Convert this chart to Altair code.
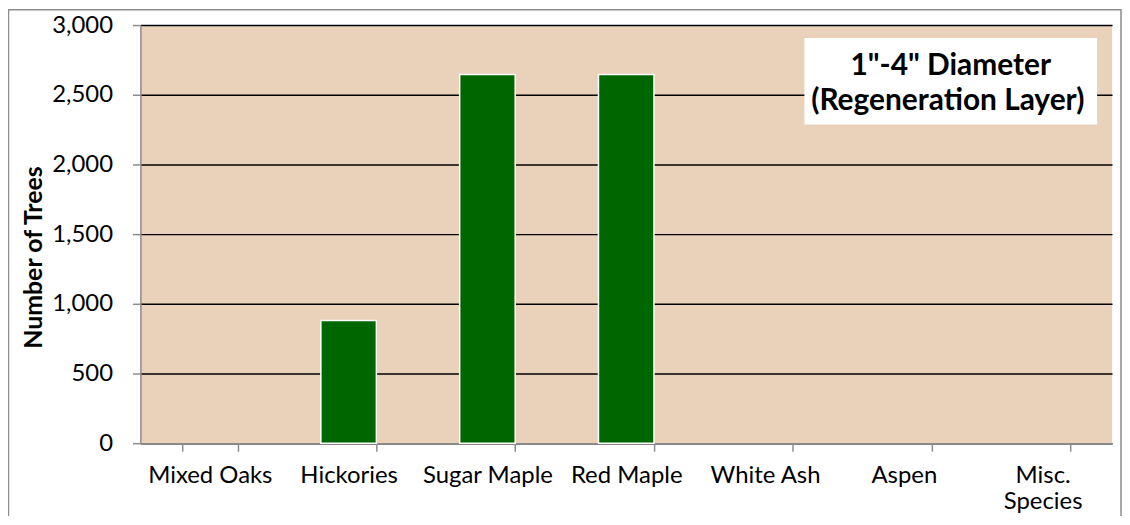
import altair as alt
import pandas as pd

species = ["Mixed Oaks", "Hickories", "Sugar Maple", "Red Maple", "White Ash", "Aspen", "Misc. Species"]
trees = [0, 880, 2645, 2645, 0, 0, 0]
y_ticks = [0, 500, 1000, 1500, 2000, 2500, 3000]

title_lines = ['1"-4" Diameter', "(Regeneration Layer)"]

df = pd.DataFrame({"species": species, "trees": trees})

FONT = "Lato"
W, H = 976, 420

x_scale = alt.Scale(domain=species, paddingInner=0.6, paddingOuter=0.3)
y_scale = alt.Scale(domain=[0, 3000])

bars = alt.Chart(df).transform_filter("datum.trees > 0").mark_bar(
    color="#006600", stroke="white", strokeWidth=1.5
).encode(
    x=alt.X("species:N", scale=x_scale, sort=species,
            axis=alt.Axis(title=None, labelAngle=0, labelFont=FONT, labelFontSize=24,
                          labelColor="#000000", labelPadding=12,
                          labelLineHeight=27,
                          labelExpr="datum.label == 'Misc. Species' ? ['Misc.', 'Species'] : datum.label",
                          tickBand="extent", ticks=True, tickSize=8, tickColor="#8c8c8c",
                          tickWidth=1.5, domainColor="#8c8c8c", domainWidth=1.5, grid=False)),
    y=alt.Y("trees:Q", scale=y_scale,
            axis=alt.Axis(title="Number of Trees", values=y_ticks,
                          format=",.0f", labelFont=FONT, labelFontSize=24, labelColor="#000000",
                          labelPadding=20, tickSize=8, tickColor="#8c8c8c", tickWidth=1.5,
                          domainColor="#8c8c8c", domainWidth=1.5,
                          grid=True, gridColor="#000000", gridWidth=1.5,
                          titleFont=FONT, titleFontSize=25, titleFontWeight="bold",
                          titleColor="#000000", titleAngle=-90, titleX=-107, titleY=233,
                          titleAlign="center", titleBaseline="middle")),
)

box = alt.Chart(pd.DataFrame({"a": [0]})).mark_rect(fill="white").encode(
    x=alt.value(667), x2=alt.value(961), y=alt.value(13), y2=alt.value(100)
)

t1 = alt.Chart(pd.DataFrame({"line": [title_lines[0]]})).mark_text(
    font=FONT, fontSize=30, fontWeight="bold", color="#000000", align="center", baseline="alphabetic"
).encode(x=alt.value(814), y=alt.value(50), text="line:N")
t2 = alt.Chart(pd.DataFrame({"line": [title_lines[1]]})).mark_text(
    font=FONT, fontSize=30, fontWeight="bold", color="#000000", align="center", baseline="alphabetic"
).encode(x=alt.value(811), y=alt.value(85), text="line:N")

border = alt.Chart(pd.DataFrame({"a": [0]})).mark_rect(
    fill=None, stroke="#8c8c8c", strokeWidth=1.5, clip=False
).encode(x=alt.value(-132.5), x2=alt.value(985), y=alt.value(-15.5), y2=alt.value(560))

chart = alt.layer(border, bars, box, t1, t2).properties(
    width=W, height=H,
    autosize=alt.AutoSizeParams(type="none"),
    padding={"left": 133, "top": 16, "right": 10, "bottom": 72},
    background="white",
).configure_view(fill="#EAD1B9", stroke=None)

chart.save("out.html", embed_options={"renderer": "svg", "actions": False})
